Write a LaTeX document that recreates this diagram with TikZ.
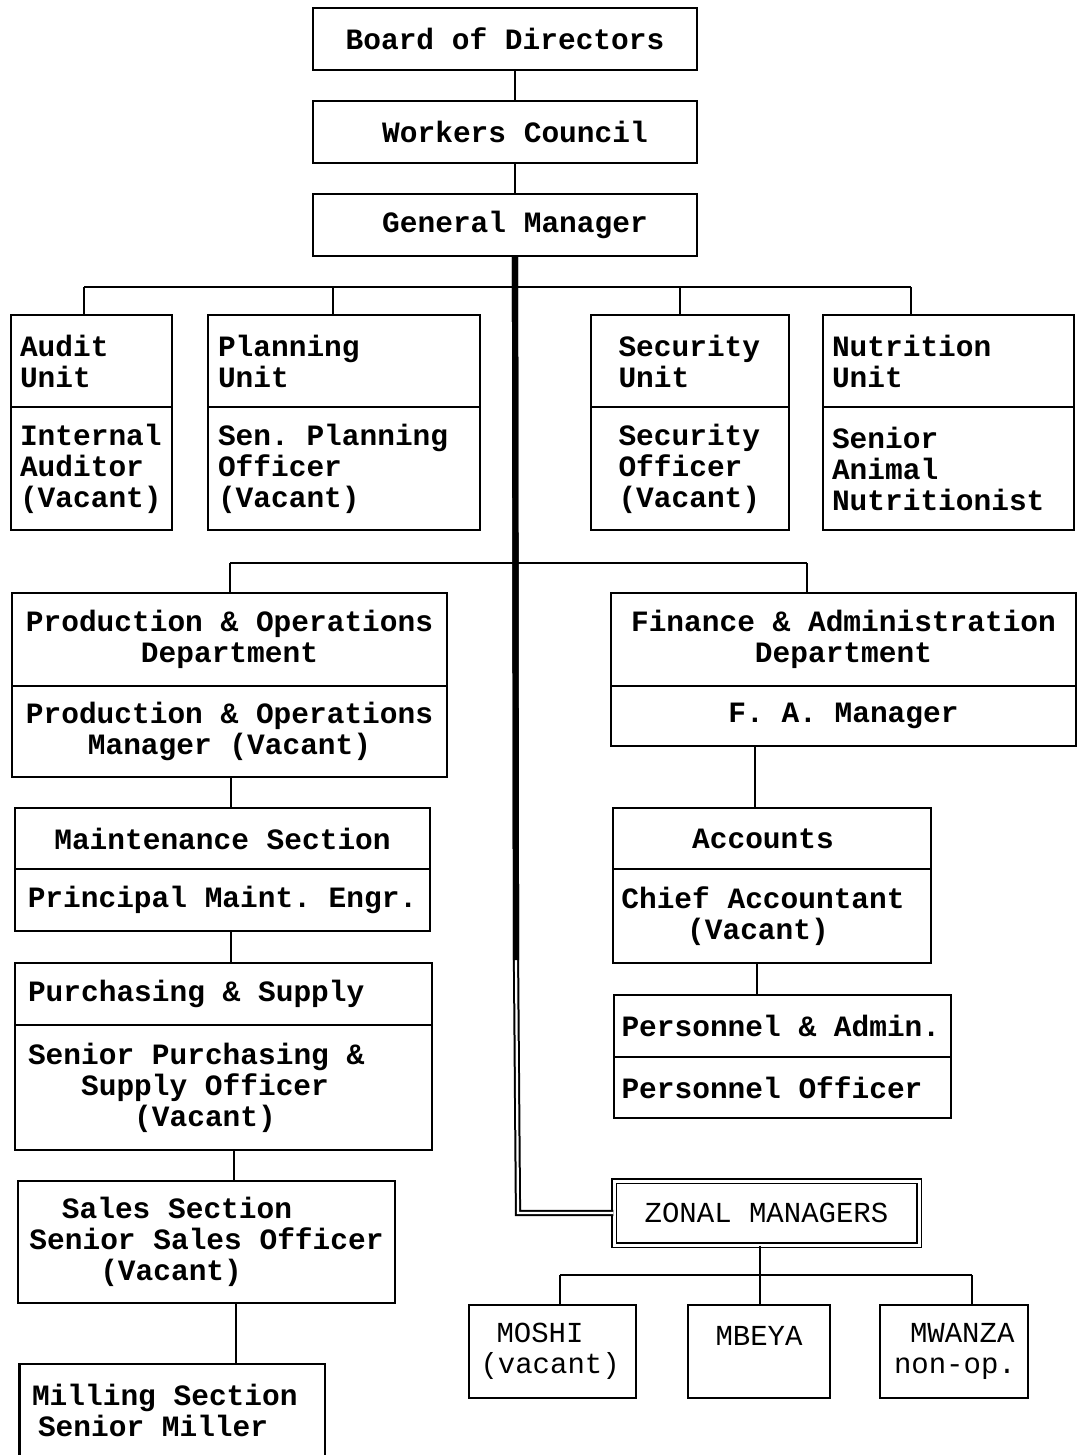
\documentclass[tikz,border=0pt]{standalone}
\usepackage{fontspec}
\newfontfamily\orgfont{Liberation Mono}
\usetikzlibrary{calc}
% fixed-width typewriter spacing, no sentence spacing, no hyphenation
\newcommand\fixspaces{\frenchspacing\spaceskip=0.6em\relax\xspaceskip=0.6em\relax\hyphenpenalty=10000\relax}

\begin{document}
\begin{tikzpicture}[x=1pt,y=-1pt,
  box/.style={draw, line width=2.4pt, inner xsep=0pt, inner ysep=0pt, align=center,
    font=\orgfont\bfseries\fontsize{29.5}{31}\selectfont,
    execute at begin node=\fixspaces},
  boxl/.style={box, align=left},
  zbox/.style={box, font=\orgfont\fontsize{29}{31}\selectfont},
  conn/.style={line width=2.4pt},
  spine/.style={double, line width=2pt, double distance=2.2pt}]

\useasboundingbox (0,0) rectangle (1078,1455);

% ---- top of the hierarchy
\node[box, minimum width=384pt, minimum height=62pt] (bod) at (505,39) {Board of Directors};
\node[box, minimum width=384pt, minimum height=62pt] (wc) at (505,132) {\hspace*{20pt}Workers Council};
\node[box, minimum width=384pt, minimum height=62pt] (gm) at (505,225) {\hspace*{20pt}General Manager};

% ---- staff units
\node[boxl, minimum width=161pt, minimum height=92pt, text width=143pt] (audtop) at (91.5,361) {Audit\\Unit};
\node[boxl, minimum width=161pt, minimum height=123pt, text width=143pt] (audbot) at (91.5,468.5) {Internal\\Auditor\\(Vacant)};

\node[boxl, minimum width=272pt, minimum height=92pt, text width=252pt] (plantop) at (344,361) {Planning\\Unit};
\node[boxl, minimum width=272pt, minimum height=123pt, text width=252pt] (planbot) at (344,468.5) {Sen. Planning\\Officer\\(Vacant)};

\node[boxl, minimum width=198pt, minimum height=92pt, text width=143pt] (sectop) at (690,361) {Security\\Unit};
\node[boxl, minimum width=198pt, minimum height=123pt, text width=143pt] (secbot) at (690,468.5) {Security\\Officer\\(Vacant)};

\node[boxl, minimum width=251pt, minimum height=92pt, text width=233pt] (nuttop) at (948.5,361) {Nutrition\\Unit};
\node[boxl, minimum width=251pt, minimum height=123pt, text width=233pt] (nutbot) at (948.5,468.5) {Senior\\Animal\\Nutritionist};

% ---- production branch
\node[box, minimum width=435pt, minimum height=93pt] (prodtop) at (229.5,639.5) {Production \& Operations\\Department};
\node[box, minimum width=435pt, minimum height=91pt] (prodbot) at (229.5,731.5) {Production \& Operations\\Manager (Vacant)};

\node[box, minimum width=415pt, minimum height=61pt] (mainttop) at (222.5,838.5) {Maintenance Section};
\node[box, minimum width=415pt, minimum height=62pt] (maintbot) at (222.5,900) {Principal Maint. Engr.};

\node[boxl, minimum width=417pt, minimum height=62pt, text width=391pt] (purchtop) at (223.5,994) {Purchasing \& Supply};
\node[boxl, minimum width=417pt, minimum height=125pt, text width=391pt] (purchbot) at (223.5,1087.5)
  {Senior Purchasing \&\\\hspace*{1.8em}Supply Officer\\\hspace*{3.6em}(Vacant)};

\node[boxl, minimum width=377pt, minimum height=122pt] (sales) at (206.5,1242)
  {\hspace*{1.1em}Sales Section\\Senior Sales Officer\\\hspace*{2.4em}(Vacant)};

% milling box runs off the lower edge, so only its text is a node
\node[boxl, draw=none, minimum width=303pt, minimum height=90pt, text width=280pt] (mill) at (172,1410)
  {Milling Section\\\hspace*{6pt}Senior Miller};
\draw[conn] (mill.south west) -- (mill.north west) -- (mill.north east) -- (mill.south east);

% ---- finance branch
\node[box, minimum width=465pt, minimum height=93pt] (fintop) at (843.5,639.5) {Finance \& Administration\\Department};
\node[box, minimum width=465pt, minimum height=60pt] (finbot) at (843.5,716) {F. A. Manager};

\node[box, minimum width=318pt, minimum height=61pt] (acctop) at (772,838.5) {Accounts\hspace*{18pt}};
\node[box, minimum width=318pt, minimum height=94pt] (accbot) at (772,916)
  {Chief Accountant\hspace*{18pt}\\(Vacant)\hspace*{28pt}};

\node[boxl, minimum width=337pt, minimum height=62pt, text width=322pt] (pertop) at (782.5,1026) {Personnel \& Admin.};
\node[boxl, minimum width=337pt, minimum height=61pt, text width=322pt] (perbot) at (782.5,1087.5) {Personnel Officer};

% ---- zonal managers
\node[zbox, double, line width=1.4pt, double distance=3pt, minimum width=305pt, minimum height=64pt] (zm) at (766.5,1213) {ZONAL MANAGERS};

\node[zbox, align=left, minimum width=167pt, minimum height=93pt, text width=144pt] (moshi) at (552.5,1351.5)
  {\hspace*{16pt}MOSHI\\(vacant)};
\node[zbox, minimum width=142pt, minimum height=93pt] (mbeya) at (759,1351.5) {MBEYA\\\mbox{}};
\node[zbox, align=left, minimum width=148pt, minimum height=93pt, text width=128pt] (mwanza) at (954,1351.5)
  {\hspace*{20pt}MWANZA\\\hspace*{4pt}non-op.};

% ---- connectors
\coordinate (xm) at (515,0);
\coordinate (xp) at (231,0);
\coordinate (xs) at (234,0);
\coordinate (xl) at (236,0);
\coordinate (xf) at (755,0);
\coordinate (xa) at (757,0);
\coordinate (xz) at (760,0);

\draw[conn] (bod.south -| xm) -- (wc.north -| xm);
\draw[conn] (wc.south -| xm) -- (gm.north -| xm);

% staff bar
\coordinate (b1L) at (84,287);
\coordinate (b1P) at (333,287);
\coordinate (b1S) at (680,287);
\coordinate (b1R) at (911,287);
\draw[conn] (b1L) -- (b1R);
\draw[conn] (b1L) -- (b1L |- audtop.north);
\draw[conn] (b1P) -- (b1P |- plantop.north);
\draw[conn] (b1S) -- (b1S |- sectop.north);
\draw[conn] (b1R) -- (b1R |- nuttop.north);

% department bar
\coordinate (b2L) at (230,563);
\coordinate (b2R) at (807,563);
\draw[conn] (b2L) -- (b2R);
\draw[conn] (b2L) -- (b2L |- prodtop.north);
\draw[conn] (b2R) -- (b2R |- fintop.north);

% production chain
\draw[conn] (prodbot.south -| xp) -- (mainttop.north -| xp);
\draw[conn] (maintbot.south -| xp) -- (purchtop.north -| xp);
\draw[conn] (purchbot.south -| xs) -- (sales.north -| xs);
\draw[conn] (sales.south -| xl) -- (mill.north -| xl);

% finance chain
\draw[conn] (finbot.south -| xf) -- (acctop.north -| xf);
\draw[conn] (accbot.south -| xa) -- (pertop.north -| xa);

% heavy line from the general manager to the zonal managers
\coordinate (spinebend) at (518,1213);
\coordinate (spinesolid) at (516,960);
\draw[spine] (gm.south -| xm) -- (spinesolid) -- (spinebend) -- (zm.west);
\draw[line width=6.2pt] (gm.south -| xm) -- (spinesolid);

% zonal bar
\coordinate (b3L) at (560,1275);
\coordinate (b3R) at (972,1275);
\draw[conn] (zm.south -| xz) -- (mbeya.north -| xz);
\draw[conn] (b3L) -- (b3R);
\draw[conn] (b3L) -- (b3L |- moshi.north);
\draw[conn] (b3R) -- (b3R |- mwanza.north);

\end{tikzpicture}
\end{document}
